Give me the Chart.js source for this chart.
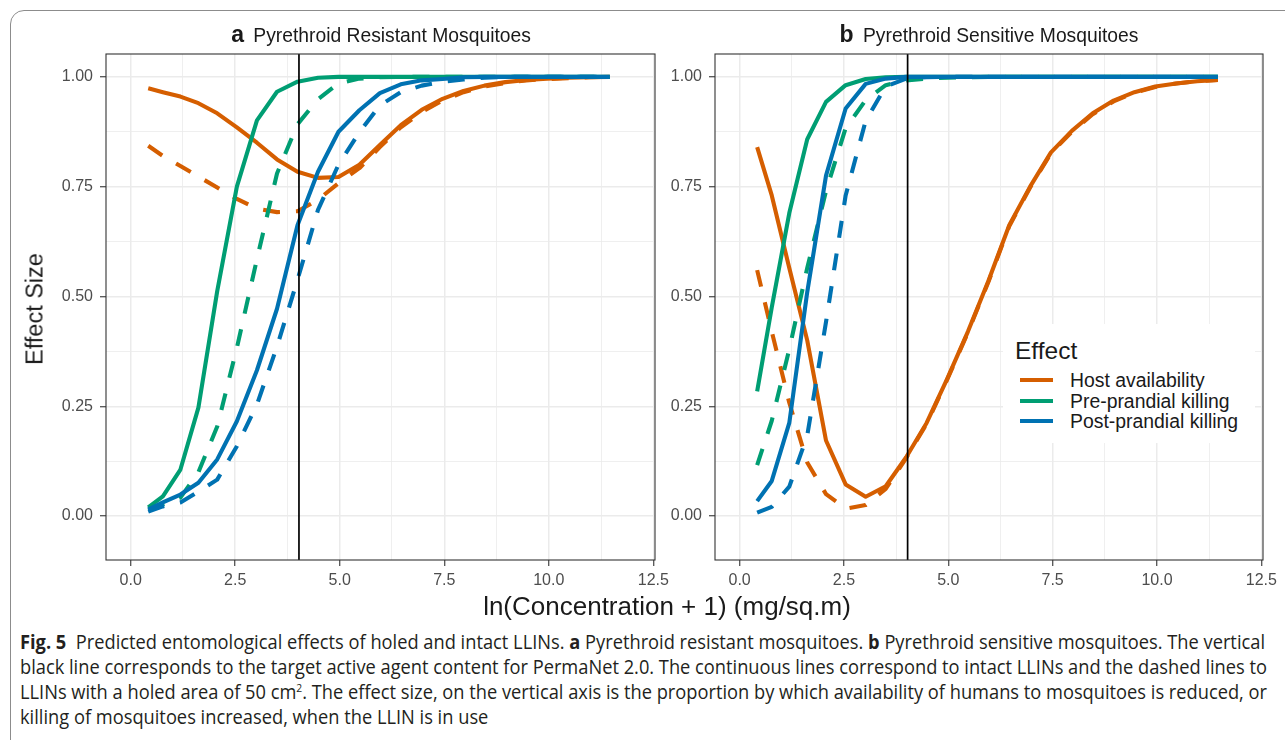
<!DOCTYPE html>
<html>
<head>
<meta charset="utf-8">
<script src="https://cdn.jsdelivr.net/npm/chart.js@4.4.1/dist/chart.umd.min.js"></script>
<style>
  html, body { margin:0; padding:0; background:#fff; }
  body { width:1285px; height:740px; overflow:hidden; position:relative; font-family:"Liberation Sans", Arial, Helvetica, sans-serif; }
  #frame { position:absolute; left:10px; top:10px; width:1320px; height:800px; border:1px solid #8c8c8c; border-radius:14px; box-sizing:border-box; }
  canvas { position:absolute; top:0; }
  #ca { left:0; }
  #cb { left:650px; }
  .ptitle { position:absolute; top:20px; font-size:19.3px; color:#1a1a1a; white-space:nowrap; transform:translateX(-50%); line-height:28px; }
  .ptitle b { font-size:23px; margin-right:4px; }
  #ytitle { position:absolute; left:35px; top:309px; font-size:23.5px; color:#1a1a1a; white-space:nowrap; transform:translate(-50%,-50%) rotate(-90deg); }
  #xtitle { position:absolute; left:667px; top:606px; font-size:26px; color:#1a1a1a; white-space:nowrap; transform:translate(-50%,-50%); }
  #legend { position:absolute; left:1003px; top:324px; width:252px; height:119px; background:#fff; color:#1a1a1a; }
  #legend .lt { position:absolute; left:12px; top:13px; font-size:24.5px; line-height:28px; }
  #legend .row { position:absolute; left:0; height:22px; width:252px; }
  #legend .key { position:absolute; left:17px; top:9px; width:33px; height:4px; }
  #legend .lab { position:absolute; left:67px; top:0; font-size:19.4px; line-height:22px; white-space:nowrap; }
  #caption { position:absolute; left:20px; top:629px; color:#231f20; font-family:"Open Sans","Noto Sans",sans-serif; font-size:19.5px; }
  #caption .ln { display:block; white-space:nowrap; height:25px; line-height:25px; transform-origin:0 50%; width:max-content; }
  #caption sup { font-size:11px; line-height:0; }
</style>
</head>
<body>
<div id="frame"></div>
<canvas id="ca" width="680" height="600" style="width:680px;height:600px"></canvas>
<canvas id="cb" width="635" height="600" style="width:635px;height:600px"></canvas>
<div class="ptitle" style="left:381px"><b>a</b> Pyrethroid Resistant Mosquitoes</div>
<div class="ptitle" style="left:989px"><b>b</b> Pyrethroid Sensitive Mosquitoes</div>
<div id="ytitle">Effect Size</div>
<div id="xtitle">ln(Concentration + 1) (mg/sq.m)</div>
<div id="legend"></div>
<div id="caption">
  <span class="ln" data-w="1245"><b>Fig. 5</b>&nbsp; Predicted entomological effects of holed and intact LLINs. <b>a</b> Pyrethroid resistant mosquitoes. <b>b</b> Pyrethroid sensitive mosquitoes. The vertical</span>
  <span class="ln" data-w="1247">black line corresponds to the target active agent content for PermaNet 2.0. The continuous lines correspond to intact LLINs and the dashed lines to</span>
  <span class="ln" data-w="1247">LLINs with a holed area of 50 cm<sup>2</sup>. The effect size, on the vertical axis is the proportion by which availability of humans to mosquitoes is reduced, or</span>
  <span class="ln" data-w="0">killing of mosquitoes increased, when the LLIN is in use</span>
</div>
<script>
// ---------------- data ----------------
const xGrid = [0.42, 0.77, 1.19, 1.62, 2.07, 2.54, 3.02, 3.50, 3.99, 4.48, 4.97, 5.47, 5.96, 6.46, 6.96, 7.46, 7.96, 8.46, 8.96, 9.46, 9.96, 10.46, 10.96, 11.46];

// Panel a: pyrethroid resistant mosquitoes
const aHostIntact = [0.974,0.965,0.955,0.940,0.917,0.885,0.850,0.812,0.784,0.770,0.772,0.800,0.845,0.890,0.925,0.950,0.968,0.980,0.988,0.993,0.996,0.998,0.999,1.000];
const aHostHoled  = [0.843,0.820,0.797,0.773,0.748,0.722,0.700,0.692,0.694,0.720,0.758,0.792,0.840,0.885,0.920,0.946,0.965,0.978,0.986,0.992,0.995,0.997,0.999,1.000];
const aPreIntact  = [0.020,0.045,0.106,0.247,0.512,0.750,0.901,0.966,0.989,0.998,1.000,1.000,1.000,1.000,1.000,1.000,1.000,1.000,1.000,1.000,1.000,1.000,1.000,1.000];
const aPreHoled   = [0.015,0.027,0.042,0.100,0.204,0.383,0.585,0.780,0.892,0.949,0.985,0.996,0.999,1.000,1.000,1.000,1.000,1.000,1.000,1.000,1.000,1.000,1.000,1.000];
const aPostIntact = [0.015,0.031,0.049,0.076,0.129,0.216,0.332,0.472,0.662,0.784,0.875,0.924,0.963,0.983,0.992,0.995,0.999,1.000,1.000,1.000,1.000,1.000,1.000,1.000];
const aPostHoled  = [0.010,0.022,0.031,0.056,0.083,0.159,0.254,0.386,0.538,0.697,0.800,0.874,0.935,0.965,0.980,0.989,0.994,0.998,1.000,1.000,1.000,1.000,1.000,1.000];

// Panel b: pyrethroid sensitive mosquitoes
const bHostIntact = [0.840,0.730,0.565,0.400,0.172,0.072,0.044,0.068,0.134,0.212,0.312,0.420,0.535,0.662,0.750,0.828,0.877,0.917,0.946,0.965,0.978,0.985,0.990,0.993];
const bHostHoled  = [0.560,0.420,0.258,0.122,0.050,0.017,0.025,0.062,0.132,0.210,0.310,0.418,0.533,0.660,0.748,0.826,0.875,0.915,0.944,0.964,0.977,0.985,0.990,0.993];
const bPreIntact  = [0.284,0.475,0.690,0.858,0.943,0.981,0.995,0.999,1.000,1.000,1.000,1.000,1.000,1.000,1.000,1.000,1.000,1.000,1.000,1.000,1.000,1.000,1.000,1.000];
const bPreHoled   = [0.116,0.217,0.380,0.565,0.740,0.883,0.947,0.981,0.992,0.996,0.998,0.999,1.000,1.000,1.000,1.000,1.000,1.000,1.000,1.000,1.000,1.000,1.000,1.000];
const bPostIntact = [0.034,0.080,0.212,0.510,0.775,0.928,0.984,0.996,1.000,1.000,1.000,1.000,1.000,1.000,1.000,1.000,1.000,1.000,1.000,1.000,1.000,1.000,1.000,1.000];
const bPostHoled  = [0.008,0.021,0.067,0.183,0.442,0.730,0.900,0.978,0.996,0.999,1.000,1.000,1.000,1.000,1.000,1.000,1.000,1.000,1.000,1.000,1.000,1.000,1.000,1.000];

const effectNames = ["Host availability", "Pre-prandial killing", "Post-prandial killing"];
const effectColors = ["#D55E00", "#009E73", "#0072B2"];
const targetConc = 4.025;   // ln(55 + 1), PermaNet 2.0 target content

const xMajorTicks = [0, 2.5, 5, 7.5, 10, 12.5];
const xMinorTicks = [1.25, 3.75, 6.25, 8.75, 11.25];
const yMajorTicks = [0, 0.25, 0.5, 0.75, 1.0];
const yMinorTicks = [0.125, 0.375, 0.625, 0.875];
const xRange = [-0.59, 12.54];
const yRange = [-0.1, 1.052];

// ---------------- helpers ----------------
const FONT = '"Liberation Sans", Arial, Helvetica, sans-serif';
const isIn = (arr, v) => arr.some(t => Math.abs(t - v) < 1e-9);

const framePlugin = {
  id: 'frame',
  afterDraw(chart) {
    const a = chart.chartArea, c = chart.ctx;
    c.save();
    c.strokeStyle = '#333333';
    c.lineWidth = 1.1;
    c.strokeRect(a.left, a.top, a.right - a.left, a.bottom - a.top);
    c.restore();
  }
};
const vlinePlugin = {
  id: 'vline',
  afterDatasetsDraw(chart) {
    const a = chart.chartArea, c = chart.ctx;
    const px = chart.scales.x.getPixelForValue(targetConc);
    c.save();
    c.strokeStyle = '#000000';
    c.lineWidth = 1.7;
    c.beginPath();
    c.moveTo(px, a.top);
    c.lineTo(px, a.bottom);
    c.stroke();
    c.restore();
  }
};

function gridOpts(major) {
  return {
    color: ctx => '#ebebeb',
    lineWidth: ctx => (ctx.tick && isIn(major, ctx.tick.value)) ? 1.5 : 0.8,
    tickLength: 6,
    tickWidth: 1.1,
    tickColor: ctx => (ctx.tick && isIn(major, ctx.tick.value)) ? '#333333' : 'rgba(0,0,0,0)',
    drawTicks: true
  };
}

function buildChart(id, series, yWidth, padRight) {
  const datasets = series.map((s, i) => ({
    label: s.label,
    data: xGrid.map((x, k) => ({ x: x, y: s.values[k] })),
    borderColor: s.color,
    borderWidth: 4.1,
    borderDash: s.dashed ? [17, 16] : [],
    borderCapStyle: 'butt',
    borderJoinStyle: 'round',
    pointRadius: 0,
    tension: 0,
    fill: false,
    order: series.length - i
  }));
  return new Chart(document.getElementById(id), {
    type: 'line',
    data: { datasets },
    options: {
      responsive: false,
      animation: false,
      events: [],
      layout: { padding: { left: 0, right: padRight, top: 54, bottom: 0 } },
      plugins: { legend: { display: false }, tooltip: { enabled: false }, title: { display: false } },
      scales: {
        x: {
          type: 'linear', min: xRange[0], max: xRange[1],
          afterBuildTicks: ax => { ax.ticks = xMajorTicks.concat(xMinorTicks).sort((p, q) => p - q).map(v => ({ value: v })); },
          afterFit: ax => { ax.height = 40; ax.paddingLeft = 0; ax.paddingRight = 0; },
          ticks: {
            autoSkip: false, maxRotation: 0, minRotation: 0, padding: 5,
            color: '#4d4d4d', font: { family: FONT, size: 16 },
            callback: v => isIn(xMajorTicks, v) ? v.toFixed(1) : ''
          },
          grid: gridOpts(xMajorTicks),
          border: { display: false }
        },
        y: {
          type: 'linear', min: yRange[0], max: yRange[1],
          afterBuildTicks: ax => { ax.ticks = yMajorTicks.concat(yMinorTicks).sort((p, q) => p - q).map(v => ({ value: v })); },
          afterFit: ax => { ax.width = yWidth; ax.paddingTop = 0; ax.paddingBottom = 0; },
          ticks: {
            autoSkip: false, padding: 7,
            color: '#4d4d4d', font: { family: FONT, size: 16 },
            callback: v => isIn(yMajorTicks, v) ? v.toFixed(2) : ''
          },
          grid: gridOpts(yMajorTicks),
          border: { display: false }
        }
      }
    },
    plugins: [framePlugin, vlinePlugin]
  });
}

function seriesFor(host, hostH, pre, preH, post, postH) {
  return [
    { label: effectNames[0] + ' (intact)', values: host,  color: effectColors[0], dashed: false },
    { label: effectNames[0] + ' (holed)',  values: hostH, color: effectColors[0], dashed: true },
    { label: effectNames[1] + ' (intact)', values: pre,   color: effectColors[1], dashed: false },
    { label: effectNames[1] + ' (holed)',  values: preH,  color: effectColors[1], dashed: true },
    { label: effectNames[2] + ' (intact)', values: post,  color: effectColors[2], dashed: false },
    { label: effectNames[2] + ' (holed)',  values: postH, color: effectColors[2], dashed: true }
  ];
}

buildChart('ca', seriesFor(aHostIntact, aHostHoled, aPreIntact, aPreHoled, aPostIntact, aPostHoled), 106, 25);
buildChart('cb', seriesFor(bHostIntact, bHostHoled, bPreIntact, bPreHoled, bPostIntact, bPostHoled), 65, 22);

// legend
const lg = document.getElementById('legend');
let html = '<div class="lt">Effect</div>';
effectNames.forEach((n, i) => {
  const top = 45 + i * 20.5;
  html += '<div class="row" style="top:' + top + 'px"><div class="key" style="background:' + effectColors[i] + '"></div><div class="lab">' + n + '</div></div>';
});
lg.innerHTML = html;

// caption width fitting
const lines = Array.from(document.querySelectorAll('#caption .ln'));
let s0 = 1;
lines.forEach((el, i) => {
  const w = +el.dataset.w;
  const nat = el.getBoundingClientRect().width;
  let s = w > 0 ? w / nat : s0;
  if (i === 0) s0 = s;
  el.style.transform = 'scaleX(' + s + ')';
});
</script>
</body>
</html>
